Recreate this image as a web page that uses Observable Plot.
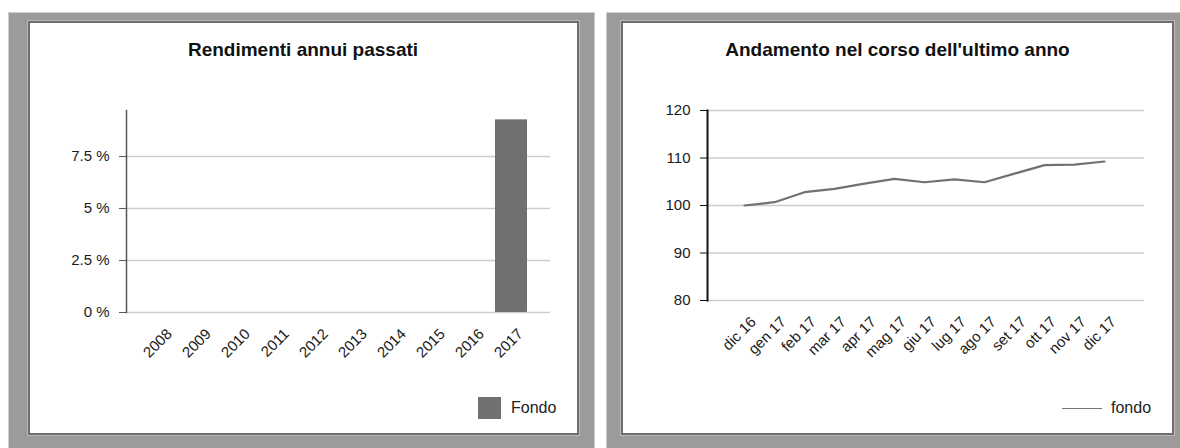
<!DOCTYPE html>
<html>
<head>
<meta charset="utf-8">
<script src="https://cdn.jsdelivr.net/npm/d3@7"></script>
<script src="https://cdn.jsdelivr.net/npm/@observablehq/plot@0.6"></script>
<style>
  html, body { margin: 0; padding: 0; background: #fff; }
  body { width: 1180px; height: 448px; overflow: hidden; position: relative;
         font-family: "Liberation Sans", Arial, sans-serif; color: #222; }
  .outer { position: absolute; background: #9b9b9b; box-shadow: 0 0 0 1px #cdcdcd; }
  .inner { position: absolute; background: #fff; box-sizing: border-box;
           border: 2px solid #6e6e6e; box-shadow: 0 0 0 1px #b9b9b9; }
  .title { position: absolute; text-align: center; font-weight: bold; font-size: 19px;
           line-height: 22px; color: #111; }
  .chart { position: absolute; }
  .legend { position: absolute; font-size: 16px; color: #222; display: flex; align-items: center; }
</style>
</head>
<body>
<div class="outer" style="left:9px; top:13px; width:585px; height:450px;"></div>
<div class="inner" style="left:28px; top:21px; width:551px; height:414px;"></div>
<div class="outer" style="left:607px; top:13px; width:600px; height:450px;"></div>
<div class="inner" style="left:621px; top:21px; width:553px; height:414px;"></div>

<div class="title" style="left:29px; width:548px; top:39px;">Rendimenti annui passati</div>
<div class="title" style="left:623px; width:549px; top:39px;">Andamento nel corso dell'ultimo anno</div>

<div id="left" class="chart" style="left:29px; top:23px;"></div>
<div id="right" class="chart" style="left:623px; top:23px;"></div>

<div class="legend" style="left:478px; top:397px; height:22px;">
  <span style="display:inline-block; width:23px; height:22px; background:#707070;"></span>
  <span style="margin-left:10px;">Fondo</span>
</div>
<div class="legend" style="left:1062px; top:398px; height:20px;">
  <span style="display:inline-block; width:40px; height:0; border-top:1.5px solid #777;"></span>
  <span style="margin-left:9px;">fondo</span>
</div>

<script>
// ---- Data: left chart (annual returns, %) ----
const years = ["2008", "2009", "2010", "2011", "2012", "2013", "2014", "2015", "2016", "2017"];
const fondoReturns = [null, null, null, null, null, null, null, null, null, 9.26];
const returnTicks = [0, 2.5, 5, 7.5];
const returnTickLabels = ["0 %", "2.5 %", "5 %", "7.5 %"];

// ---- Data: right chart (index over the last year) ----
const months = ["dic 16", "gen 17", "feb 17", "mar 17", "apr 17", "mag 17", "giu 17",
                "lug 17", "ago 17", "set 17", "ott 17", "nov 17", "dic 17"];
const fondoIndex = [100, 100.7, 102.8, 103.5, 104.6, 105.6, 104.9, 105.5, 104.9, 106.7, 108.5, 108.6, 109.26];
const indexTicks = [80, 90, 100, 110, 120];

const font = "'Liberation Sans', Arial, sans-serif";

const barRows = years.map((year, i) => ({year, value: fondoReturns[i]})).filter(d => d.value != null);
const lineRows = months.map((month, i) => ({month, value: fondoIndex[i]}));

const left = Plot.plot({
  width: 548, height: 350,
  marginLeft: 97, marginRight: 27, marginTop: 87, marginBottom: 61,
  style: {fontFamily: font, fontSize: "15px", color: "#1a1a1a", background: "transparent", overflow: "visible"},
  x: {type: "band", domain: years, paddingInner: 0.18, paddingOuter: 0.5, align: 0.43},
  y: {domain: [0, 9.71]},
  marks: [
    Plot.ruleY(returnTicks, {stroke: "#cccccc", strokeWidth: 1.5}),
    Plot.barY(barRows, {x: "year", y: "value", fill: "#707070"}),
    Plot.frame({anchor: "left", stroke: "#555", strokeWidth: 1.5}),
    Plot.axisY({ticks: returnTicks, tickFormat: d => returnTickLabels[returnTicks.indexOf(d)],
                tickSize: 7, tickPadding: 10, stroke: "#555", label: null}),
    Plot.axisX({tickRotate: -45, tickSize: 0, tickPadding: 19, dx: 9, label: null})
  ]
});
document.getElementById("left").appendChild(left);

const right = Plot.plot({
  width: 549, height: 350,
  marginLeft: 84, marginRight: 28, marginTop: 87, marginBottom: 73,
  style: {fontFamily: font, fontSize: "15px", color: "#1a1a1a", background: "transparent", overflow: "visible"},
  x: {type: "point", domain: months, padding: 1.07, align: 0.48},
  y: {domain: [80, 120]},
  marks: [
    Plot.ruleY(indexTicks, {stroke: "#cccccc", strokeWidth: 1.5}),
    Plot.line(lineRows, {x: "month", y: "value", stroke: "#727272", strokeWidth: 2.2}),
    Plot.frame({anchor: "left", stroke: "#111", strokeWidth: 2}),
    Plot.axisY({ticks: indexTicks, tickSize: 7, tickPadding: 10, stroke: "#111", label: null}),
    Plot.axisX({tickRotate: -45, tickSize: 0, tickPadding: 19, dx: 9, label: null})
  ]
});
document.getElementById("right").appendChild(right);
</script>
</body>
</html>
